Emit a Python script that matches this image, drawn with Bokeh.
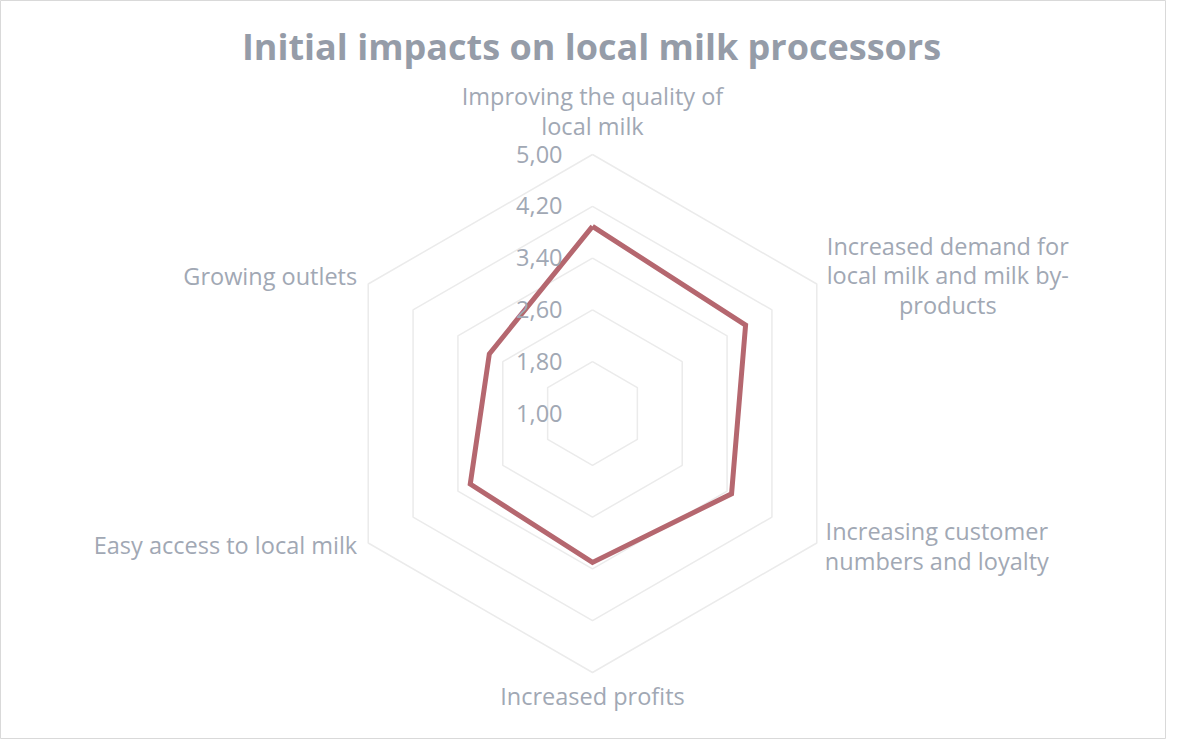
import numpy as np
from bokeh.plotting import figure
from bokeh.models import Range1d
from bokeh.core.properties import value
from bokeh.embed import file_html
from bokeh.resources import INLINE

# ---- data ----
categories = [
    "Improving the quality of\nlocal milk",
    "Increased demand for\nlocal milk and milk by-\nproducts",
    "Increasing customer\nnumbers and loyalty",
    "Increased profits",
    "Easy access to local milk",
    "Growing outlets",
]
scores = [3.89, 3.73, 3.48, 3.30, 3.18, 2.84]
tick_values = [1.0, 1.8, 2.6, 3.4, 4.2, 5.0]
tick_labels = ["1,00", "1,80", "2,60", "3,40", "4,20", "5,00"]
title_text = "Initial impacts on local milk processors"

# ---- layout / style ----
W, H = 1166, 739
FONT = "Open Sans"
TEXT_COL = "#a1a8b4"
GRID_COL = "#ebebeb"
LINE_COL = "#b5676f"
cx, cy = 592.0, -413.0
R = 259.0
vmin, vmax = tick_values[0], tick_values[-1]
FS = "23.5px"

n = len(categories)
theta = np.deg2rad(90 - 360.0 / n * np.arange(n))


def pt(v, i):
    r = (v - vmin) / (vmax - vmin) * R
    return cx + r * np.cos(theta[i]), cy + r * np.sin(theta[i])


p = figure(width=W, height=H, output_backend="svg", toolbar_location=None,
           x_range=Range1d(0, W), y_range=Range1d(-H, 0),
           min_border=0, outline_line_color="#d9d9d9", outline_line_width=1)
p.axis.visible = False
p.grid.visible = False
p.background_fill_color = "white"

closed = list(range(n)) + [0]

# grid hexagons
for tv in tick_values[1:]:
    gx = [pt(tv, i)[0] for i in closed]
    gy = [pt(tv, i)[1] for i in closed]
    p.line(gx, gy, line_color=GRID_COL, line_width=1.5)

# series
sx = [pt(scores[i], i)[0] for i in closed]
sy = [pt(scores[i], i)[1] for i in closed]
p.line(sx, sy, line_color=LINE_COL, line_width=5, line_join="miter")

# tick labels
for tv, tl in zip(tick_values, tick_labels):
    x, y = pt(tv, 0)
    p.text([x - 30], [y + 0.5], text=[tl], text_align="right", text_baseline="middle",
           text_font=value(FONT), text_font_size=FS, text_color=TEXT_COL)

# category labels: offsets from outer vertex
label_style = [
    (0, 43.5, "center"),
    (131, 8.5, "center"),
    (120, -3, "center"),
    (0, -23.5, "center"),
    (-11, -2, "right"),
    (-11, 8.5, "right"),
]
for i, cat in enumerate(categories):
    x, y = pt(vmax, i)
    dx, dy, al = label_style[i]
    p.text([x + dx], [y + dy], text=[cat], text_align=al, text_baseline="middle",
           text_font=value(FONT), text_font_size=FS, text_color=TEXT_COL,
           text_line_height=0.92)

# title
p.text([591], [-46], text=[title_text], text_align="center", text_baseline="middle",
       text_font=value(FONT), text_font_style="bold", text_font_size="36px",
       text_color="#959ca8")

open("out.html", "w").write(file_html(p, INLINE))
